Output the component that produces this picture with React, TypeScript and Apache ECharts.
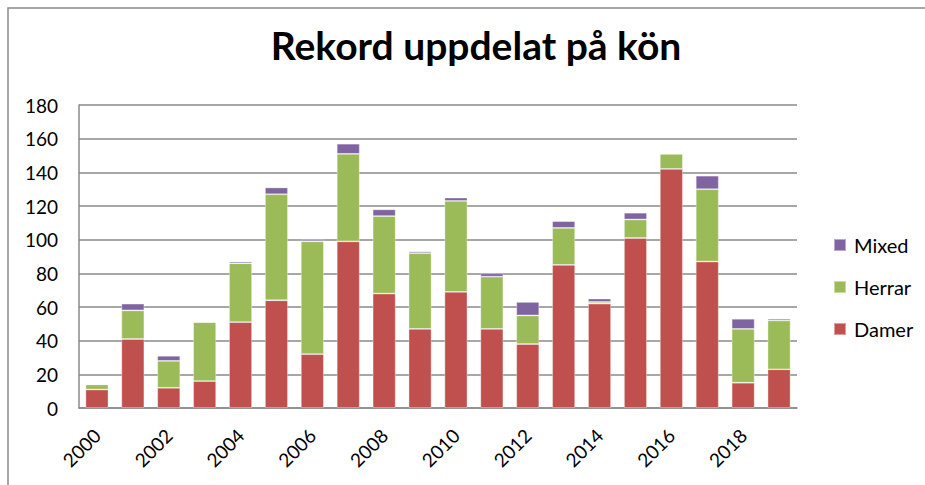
import React, { useEffect, useRef } from "react";
import * as echarts from "echarts";

const years = ["2000","2001","2002","2003","2004","2005","2006","2007","2008","2009","2010","2011","2012","2013","2014","2015","2016","2017","2018","2019"];
const damer = [11, 41, 12, 16, 51, 64, 32, 99, 68, 47, 69, 47, 38, 85, 62, 101, 142, 87, 15, 23];
const herrar = [3, 17, 16, 35, 35, 63, 67, 52, 46, 45, 54, 31, 17, 22, 1, 11, 9, 43, 32, 29];
const mixed = [0, 4, 3, 0, 1, 4, 1, 6, 4, 1, 2, 2, 8, 4, 2, 4, 0, 8, 6, 1];
const legendOrder = ["Mixed", "Herrar", "Damer"];
const titleText = "Rekord uppdelat på kön";

const FONT = "Lato, 'Liberation Sans', sans-serif";
const GRID = "#8a8a8a";

export default function App() {
  const ref = useRef<HTMLDivElement>(null);
  useEffect(() => {
    if (!ref.current) return;
    const chart = echarts.init(ref.current, undefined, { renderer: "svg" });
    const barStyle = (c: string) => ({ color: c, borderColor: "rgba(255,255,255,0.45)", borderWidth: 0.8 });
    chart.setOption({
      animation: false,
      backgroundColor: "#ffffff",
      textStyle: { fontFamily: FONT },
      graphic: [
        {
          type: "rect",
          shape: { x: 8, y: 8, width: 1000, height: 1000 },
          style: { fill: "none", stroke: "#8a8a8a", lineWidth: 1.5 },
          silent: true,
        },
        {
          type: "text",
          x: 476,
          y: 25,
          style: {
            text: titleText,
            fontFamily: FONT,
            fontWeight: "bold",
            fontSize: 39,
            fill: "#000000",
            textAlign: "center",
            textVerticalAlign: "top",
          },
        },
      ],
      legend: {
        data: legendOrder,
        orient: "vertical",
        left: 828,
        top: 230,
        itemWidth: 12,
        itemHeight: 12,
        itemGap: 22,
        icon: "rect",
        textStyle: { fontFamily: FONT, fontSize: 20, color: "#000", padding: [0, 0, 0, 3] },
      },
      grid: { left: 79, right: 128, top: 105, bottom: 77, containLabel: false },
      xAxis: {
        type: "category",
        data: years,
        axisLine: { show: true, lineStyle: { color: GRID, width: 1.5 } },
        axisTick: { show: false },
        axisLabel: {
          interval: 1,
          rotate: 45,
          margin: 24,
          fontFamily: FONT,
          fontSize: 19,
          color: "#000",
        },
      },
      yAxis: {
        type: "value",
        min: 0,
        max: 180,
        interval: 20,
        axisLine: { show: true, lineStyle: { color: GRID, width: 1.5 } },
        axisTick: { show: false },
        axisLabel: { margin: 21, fontFamily: FONT, fontSize: 19, color: "#000" },
        splitLine: { show: true, lineStyle: { color: GRID, width: 1.5 } },
      },
      series: [
        { name: "Damer", type: "bar", stack: "total", data: damer, barWidth: "64%", itemStyle: barStyle("#C0504D") },
        { name: "Herrar", type: "bar", stack: "total", data: herrar, barWidth: "64%", itemStyle: barStyle("#9BBB59") },
        { name: "Mixed", type: "bar", stack: "total", data: mixed, barWidth: "64%", itemStyle: barStyle("#8064A2") },
      ],
    });
    return () => chart.dispose();
  }, []);
  return (
    <div
      ref={ref}
      style={{ position: "fixed", left: 0, top: 0, width: 925, height: 485, background: "#fff" }}
    />
  );
}
